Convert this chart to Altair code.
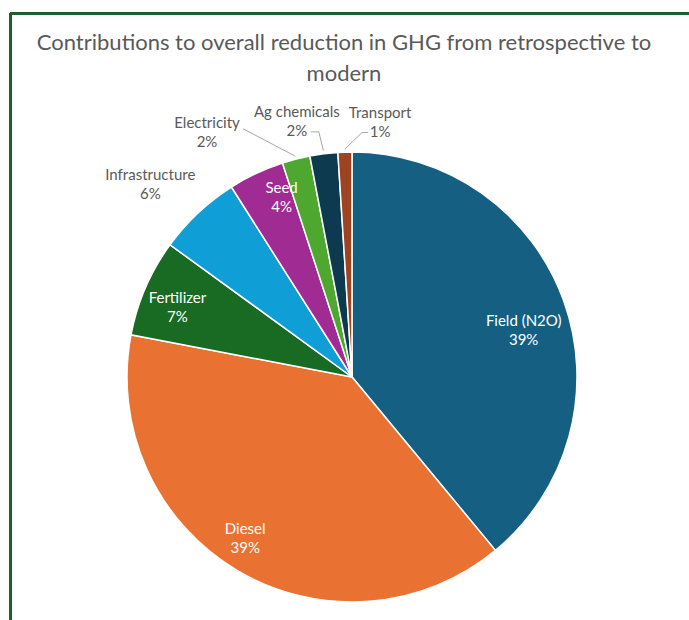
import math

import altair as alt
import pandas as pd

# Slice data, clockwise from 12 o'clock
categories = ["Field (N2O)", "Diesel", "Fertilizer", "Infrastructure",
              "Seed", "Electricity", "Ag chemicals", "Transport"]
shares = [39, 39, 7, 6, 4, 2, 2, 1]
colors = ["#156082", "#E97132", "#196B24", "#0F9ED5",
          "#A02B93", "#4EA72E", "#0D3A4E", "#9C4421"]
label_inside = [True, True, True, False, True, False, False, False]

title_lines = ["Contributions to overall reduction in GHG from retrospective to",
               "modern"]

# Layout: plot area placed so the pie centre sits where wanted
PAD_L, PAD_T = 15, 134
W, H = 674, 486
R = 225
FONT = "Lato"
GREY = "#595959"
LINE_H = 19

# label placement: (radius px, angle shift in degrees from the slice middle)
label_layout = {
    "Field (N2O)": (178, 4.5),
    "Diesel": (194, 2.8),
    "Fertilizer": (188, -1.6),
    "Infrastructure": (279, -3.1),
    "Seed": (193, 3.8),
    "Electricity": (284, -16.3),
    "Ag chemicals": (261, -5.0),
    "Transport": (256, 8.1),
}
# leader lines: start offset from the label centre, then horizontal elbow length
leader_layout = {
    "Electricity": ((36, -4), 0),
    "Ag chemicals": ((14, 10), 8),
    "Transport": ((-12, 10), -6),
}


def polar(r, deg):
    a = math.radians(deg)
    return W / 2 + r * math.sin(a), H / 2 - r * math.cos(a)


total = sum(shares)
rows, leaders = [], []
cum = 0
for i, (cat, val) in enumerate(zip(categories, shares)):
    mid = (cum + val / 2) / total * 360
    cum += val
    r, shift = label_layout[cat]
    lx, ly = polar(r, mid + shift)
    rows.append({"idx": i, "category": cat, "share": val,
                 "label": f"{cat}\n{val}%", "inside": label_inside[i],
                 "lx": lx, "ly": ly})
    if cat in leader_layout:
        (ox, oy), elbow = leader_layout[cat]
        sx, sy = lx + ox, ly + oy
        ex, ey = polar(R + 3, mid)
        pts = [(sx, sy)]
        if elbow:
            pts.append((sx + elbow, sy))
        pts.append((ex, ey))
        for k, (px, py) in enumerate(pts):
            leaders.append({"category": cat, "k": k, "x": px, "y": py})

df = pd.DataFrame(rows)
lead_df = pd.DataFrame(leaders)

base = alt.Chart(df)

pie = base.mark_arc(outerRadius=R, stroke="white", strokeWidth=1.5).encode(
    theta=alt.Theta("share:Q", stack=True),
    color=alt.Color("category:N", scale=alt.Scale(domain=categories, range=colors),
                    legend=None),
    order=alt.Order("idx:Q"),
)

# two-line labels: shift up half a line so the block is centred on its anchor
text_common = dict(font=FONT, fontSize=15, lineBreak="\n", lineHeight=LINE_H,
                   align="center", baseline="middle", dy=-LINE_H / 2)

inside_labels = base.transform_filter("datum.inside").mark_text(
    color="white", **text_common
).encode(
    x=alt.X("lx:Q", scale=None),
    y=alt.Y("ly:Q", scale=None),
    text="label:N",
)

outside_labels = base.transform_filter("!datum.inside").mark_text(
    color=GREY, **text_common
).encode(
    x=alt.X("lx:Q", scale=None),
    y=alt.Y("ly:Q", scale=None),
    text="label:N",
)

leader_lines = alt.Chart(lead_df).mark_line(color="#a6a6a6", strokeWidth=1).encode(
    x=alt.X("x:Q", scale=None),
    y=alt.Y("y:Q", scale=None),
    detail="category:N",
    order="k:Q",
)

# dark green frame along the top and left edges
frame_top = alt.Chart(df).mark_rule(color="#1d5e2c", strokeWidth=2).encode(
    x=alt.value(10 - PAD_L), x2=alt.value(700 - PAD_L), y=alt.value(13.5 - PAD_T)
)
frame_left = alt.Chart(df).mark_rule(color="#1d5e2c", strokeWidth=2).encode(
    x=alt.value(10.5 - PAD_L), y=alt.value(13 - PAD_T), y2=alt.value(640 - PAD_T)
)

chart = alt.layer(
    pie, leader_lines, inside_labels, outside_labels, frame_top, frame_left
).properties(
    width=W,
    height=H,
    padding={"left": PAD_L, "top": PAD_T, "right": 0, "bottom": 0},
    autosize=alt.AutoSizeParams(type="none"),
    background="white",
    title=alt.TitleParams(
        text=title_lines,
        font=FONT,
        fontSize=22,
        fontWeight="normal",
        color=GREY,
        lineHeight=31,
        anchor="middle",
        offset=-74,
        dx=-8,
    ),
).configure_view(stroke=None)

chart.save("out.html", embed_options={"renderer": "svg", "actions": False})
